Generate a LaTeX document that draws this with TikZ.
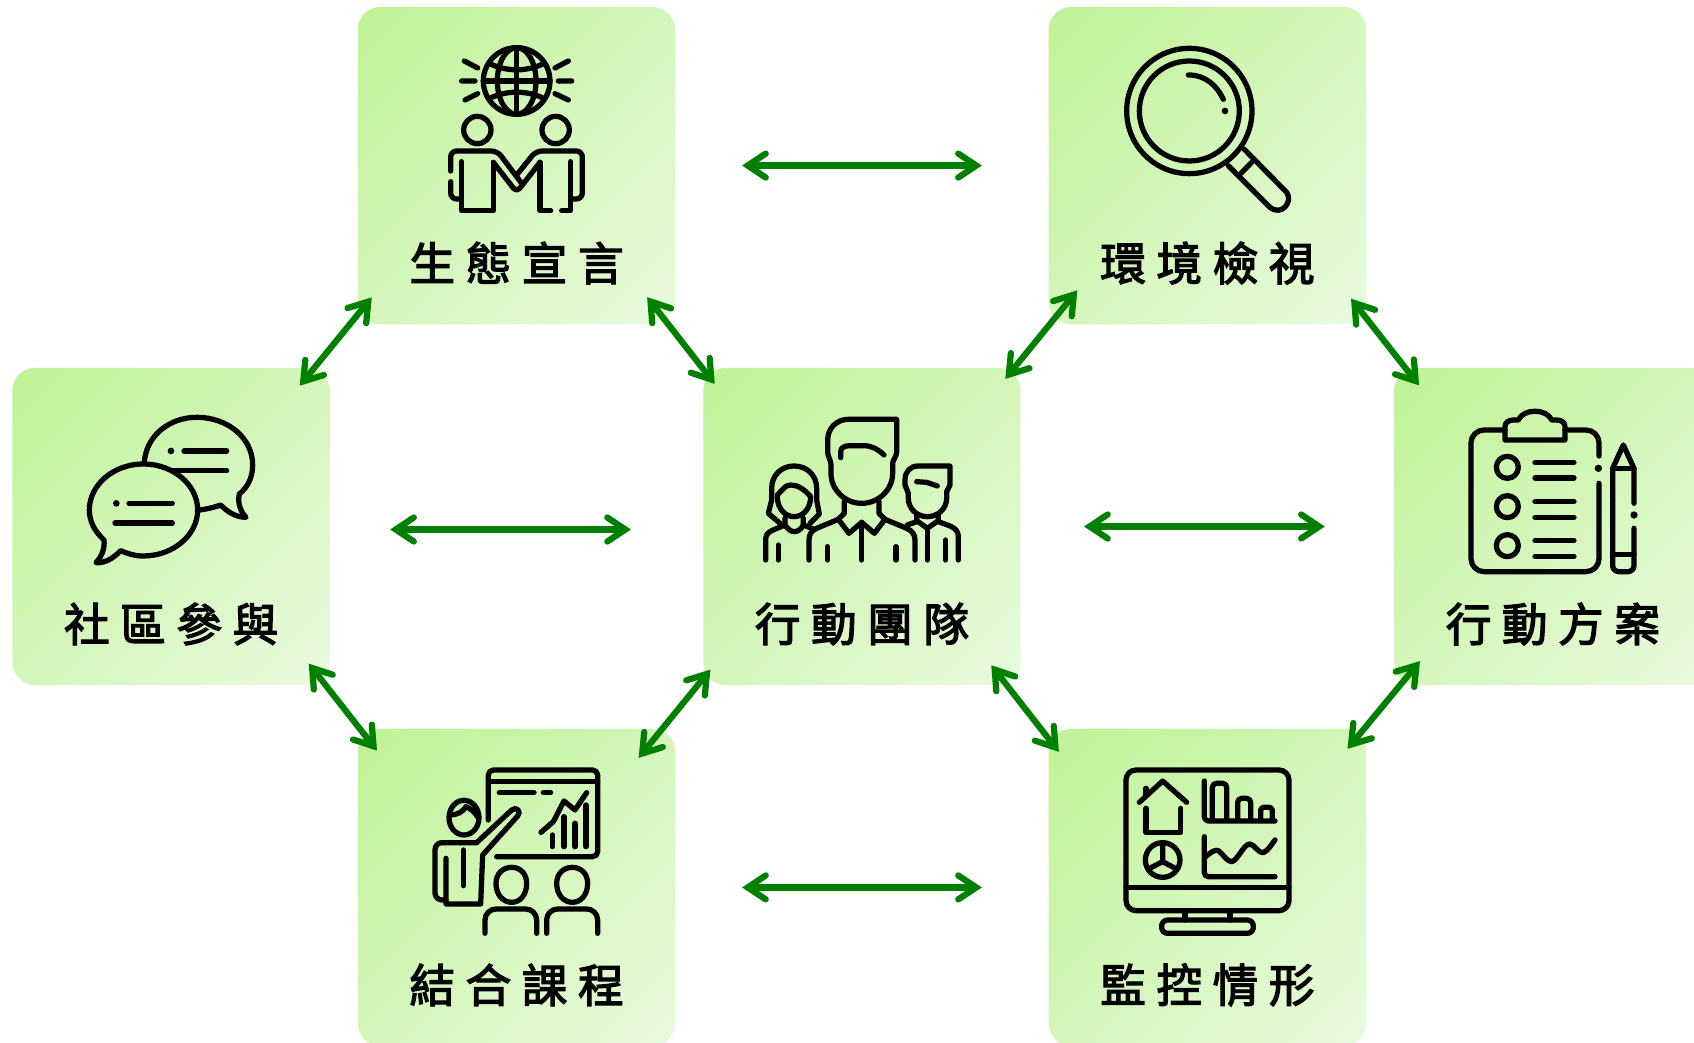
\documentclass[tikz,border=0pt]{standalone}
\usepackage{fontspec}
\usepackage{tikz}
\usetikzlibrary{arrows.meta}
\newfontfamily\cjkfont[LetterSpace=23, FakeBold=2.8]{Noto Sans CJK TC}
\definecolor{cardtop}{HTML}{BFF296}
\definecolor{cardbottom}{HTML}{E9FADF}
\definecolor{arrowgreen}{HTML}{008000}
\pgfdeclareverticalshading{cardshade}{100bp}{color(0bp)=(cardbottom); color(14.6bp)=(cardbottom); color(85.4bp)=(cardtop); color(100bp)=(cardtop)}

\begin{document}
\begin{tikzpicture}[x=0.02cm, y=-0.02cm, node distance=7.22cm]
        \tikzstyle{card} = [rectangle, rounded corners=0.46cm, minimum size=6.35cm, inner sep=0pt, shade, shading=cardshade, shading angle=45]
        \tikzstyle{cardlabel} = [inner sep=0pt, text=black, font=\cjkfont\fontsize{26}{30}\selectfont, node distance=1.95cm]
        \tikzstyle{arrow} = [draw=arrowgreen, line width=0.125cm, {Straight Barb[length=0.36cm, width=0.48cm, line cap=round, line join=miter]}-{Straight Barb[length=0.36cm, width=0.48cm, line cap=round, line join=miter]}]
        \tikzstyle{icon} = [x=0.00667cm, y=-0.00667cm, line width=0.105cm, line cap=round, line join=round, draw=black]

        \useasboundingbox (0,0) rectangle (1694,1043);

        % Cards
        \node (team) [card] at (862,526.5) {};
        \node (eco) [card, above of=team, xshift=-6.91cm] {};
        \node (scan) [card, above of=team, xshift=6.91cm] {};
        \node (course) [card, below of=team, xshift=-6.91cm] {};
        \node (monitor) [card, below of=team, xshift=6.91cm] {};
        \node (community) [card, left of=team, node distance=13.82cm] {};
        \node (plan) [card, right of=team, node distance=13.82cm] {};

        % Labels
        \node (eco_label) [cardlabel, below of=eco] {生態宣言};
        \node (scan_label) [cardlabel, below of=scan] {環境檢視};
        \node (community_label) [cardlabel, below of=community] {社區參與};
        \node (team_label) [cardlabel, below of=team] {行動團隊};
        \node (plan_label) [cardlabel, below of=plan] {行動方案};
        \node (course_label) [cardlabel, below of=course] {結合課程};
        \node (monitor_label) [cardlabel, below of=monitor] {監控情形};

        % Globe and handshake
        \begin{scope}[shift={(340,0)}, icon]
            \draw (530,243) circle [radius=100];
            \draw (530,243) ellipse [x radius=58, y radius=100];
            \draw (530,143) -- (530,343);
            \draw (430,243) -- (630,243);
            \draw (447,190) .. controls (500,216) and (560,216) .. (613,190);
            \draw (447,296) .. controls (500,270) and (560,270) .. (613,296);
            \draw (373,183) -- (413,204) (365,243) -- (405,243) (375,300) -- (413,281);
            \draw (685,183) -- (645,204) (655,243) -- (695,243) (685,300) -- (645,281);
            \draw (412,390) circle [radius=41];
            \draw (647,390) circle [radius=41];
            \draw [rounded corners=0.12cm] (332,513) -- (332,453) -- (472,453) -- (545,550);
            \draw [rounded corners=0.12cm] (530,525) -- (588,453) -- (727,453) -- (727,597) -- (697,597);
            \draw [rounded corners=0.12cm] (332,545) -- (332,597) -- (363,597);
            \draw (365,485) -- (365,632) -- (460,632) -- (460,487);
            \draw [rounded corners=0.1cm] (460,487) -- (530,577) -- (600,487);
            \draw (600,487) -- (600,632) -- (632,632);
            \draw (665,632) -- (692,632) -- (692,485);
        \end{scope}

        % Magnifier
        \begin{scope}[shift={(1040,0)}, icon]
            \draw (448,333) circle [radius=188];
            \draw (448,333) circle [radius=150];
            \draw (445,225) .. controls (495,225) and (530,255) .. (550,298);
            \fill (555,333) circle [radius=10];
            \draw (613,448) -- (740,577) .. controls (760,605) and (725,650) .. (690,622) -- (565,497);
            \draw (635,487) -- (603,520);
        \end{scope}

        % Speech bubbles
        \begin{scope}[shift={(0,360)}, icon]
            \draw (433,305) .. controls (440,225) and (510,172) .. (590,172) .. controls (685,172) and (758,235) .. (758,315) .. controls (758,350) and (745,380) .. (718,402) .. controls (712,430) and (722,455) .. (738,472) .. controls (710,472) and (685,458) .. (662,435) .. controls (640,443) and (620,447) .. (600,450);
            \fill (513,273) circle [radius=10];
            \draw (552,273) -- (680,273);
            \draw (520,332) -- (680,332);
            \draw (430,312) .. controls (520,312) and (593,375) .. (593,450) .. controls (593,525) and (520,588) .. (430,588) .. controls (405,588) and (385,582) .. (362,572) .. controls (340,595) and (315,610) .. (288,608) .. controls (305,590) and (315,565) .. (312,540) .. controls (285,515) and (268,485) .. (268,450) .. controls (268,375) and (340,312) .. (430,312) -- cycle;
            \fill (349,430) circle [radius=10];
            \draw (387,430) -- (517,430);
            \draw (345,489) -- (517,489);
        \end{scope}

        % Three people
        \begin{scope}[shift={(700,360)}, icon]
            \draw (590,178) -- (445,178) .. controls (410,178) and (383,205) .. (383,240) -- (383,275) .. controls (383,290) and (393,300) .. (393,315) -- (393,340) .. controls (393,390) and (435,430) .. (485,430) .. controls (535,430) and (578,390) .. (578,340) -- (578,310) .. controls (578,300) and (590,290) .. (590,275) -- cycle;
            \draw (422,293) -- (422,275) .. controls (422,262) and (435,257) .. (450,257) -- (490,257) .. controls (515,257) and (535,268) .. (552,285);
            \draw (433,425) -- (433,460) -- (415,478) -- (447,520) -- (485,487) -- (523,520) -- (555,478) -- (537,460) -- (537,425);
            \draw (485,487) -- (485,600);
            \draw (415,478) -- (350,505) .. controls (335,512) and (327,522) .. (327,540) -- (327,600);
            \draw (555,478) -- (620,505) .. controls (635,512) and (645,522) .. (645,540) -- (645,600);
            \draw (382,560) -- (382,600);
            \draw (588,560) -- (588,600);
            \draw (240,490) -- (205,460) -- (215,420) -- (215,385) .. controls (215,345) and (245,318) .. (282,318) .. controls (320,318) and (350,345) .. (350,385) -- (350,420) -- (358,462) -- (330,490);
            \draw (232,410) .. controls (232,445) and (255,470) .. (282,470) .. controls (310,470) and (332,445) .. (332,410) .. controls (315,390) and (295,375) .. (272,375) .. controls (255,375) and (248,390) .. (232,405);
            \draw (255,475) -- (255,495) .. controls (265,510) and (275,515) .. (282,515) .. controls (292,515) and (302,510) .. (310,495) -- (310,475);
            \draw (255,495) -- (215,512) .. controls (203,518) and (197,525) .. (197,540) -- (197,600);
            \draw (235,555) -- (235,600);
            \draw (310,495) -- (340,507);
            \draw (750,318) -- (655,318) .. controls (630,318) and (615,335) .. (615,360) -- (615,375) .. controls (615,385) and (625,390) .. (625,400) -- (625,415) .. controls (625,445) and (650,470) .. (682,470) .. controls (715,470) and (740,445) .. (740,415) -- (740,395) -- (750,375) -- cycle;
            \draw (650,365) -- (680,367) -- (712,378);
            \draw (650,465) -- (650,482) -- (682,505) -- (715,482) -- (715,465);
            \draw (682,505) -- (682,600);
            \draw (715,485) -- (750,498) .. controls (767,505) and (775,515) .. (775,530) -- (775,600);
            \draw (737,540) -- (737,600);
            \draw (650,485) -- (622,495);
        \end{scope}

        % Clipboard and pencil
        \begin{scope}[shift={(1390,360)}, icon]
            \draw [rounded corners=0.26cm] (345,210) -- (243,210) -- (243,635) -- (627,635) -- (627,370);
            \draw [rounded corners=0.26cm] (627,288) -- (627,210) -- (525,210);
            \fill (625,325) circle [radius=11];
            \draw (345,240) -- (525,240) -- (525,200) .. controls (525,188) and (515,180) .. (500,180) -- (485,180) .. controls (470,145) and (400,145) .. (385,180) -- (370,180) .. controls (355,180) and (345,188) .. (345,200) -- cycle;
            \draw (352,322) circle [radius=33];
            \draw (352,440) circle [radius=33];
            \draw (352,557) circle [radius=33];
            \foreach \y in {307,354,425,472,542,589}
                \draw (435,\y) -- (552,\y);
            \draw [rounded corners=0.12cm] (732,505) -- (732,635) -- (668,635) -- (668,420);
            \draw (668,420) -- (668,325) -- (700,255) -- (732,325) -- (732,430);
            \draw (668,325) -- (732,325);
            \draw (668,583) -- (732,583);
            \fill (732,465) circle [radius=11];
        \end{scope}

        % Presenter
        \begin{scope}[shift={(340,720)}, icon]
            \draw [rounded corners=0.1cm] (445,300) -- (445,150) -- (773,150) -- (773,410) -- (470,410);
            \draw (445,185) -- (773,185);
            \draw (478,218) -- (582,218);
            \draw (610,218) -- (632,218);
            \draw (603,337) -- (640,305) -- (672,243) -- (705,270) -- (740,218);
            \draw (637,345) -- (637,380);
            \draw (672,290) -- (672,380);
            \draw (705,310) -- (705,380);
            \draw (738,255) -- (738,380);
            \draw (372,293) ellipse [x radius=45, y radius=52];
            \draw (332,285) .. controls (350,285) and (370,275) .. (378,260) .. controls (390,265) and (405,275) .. (412,290);
            \draw (410,368) -- (515,270) .. controls (530,258) and (545,275) .. (533,288) -- (428,405) -- (422,552) -- (318,552) -- (318,415);
            \draw [rounded corners=0.14cm] (318,540) -- (285,540) -- (285,368) -- (410,368);
            \draw (370,390) -- (370,497);
            \draw (468,490) .. controls (468,460) and (490,442) .. (515,442) .. controls (540,442) and (560,460) .. (560,490) .. controls (560,525) and (540,547) .. (515,547) .. controls (490,547) and (468,525) .. (468,490) -- cycle;
            \draw (650,490) .. controls (650,460) and (672,442) .. (697,442) .. controls (722,442) and (743,460) .. (743,490) .. controls (743,525) and (722,547) .. (697,547) .. controls (672,547) and (650,525) .. (650,490) -- cycle;
            \draw [rounded corners=0.22cm] (435,640) -- (435,567) -- (590,567) -- (590,640);
            \draw [rounded corners=0.22cm] (620,640) -- (620,567) -- (773,567) -- (773,640);
        \end{scope}

        % Monitor
        \begin{scope}[shift={(1040,720)}, icon]
            \draw [rounded corners=0.2cm] (258,150) rectangle (747,572);
            \draw (258,502) -- (747,502);
            \draw (435,572) -- (435,600);
            \draw (570,572) -- (570,600);
            \draw [rounded corners=0.12cm] (365,640) -- (365,600) -- (640,600) -- (640,640) -- cycle;
            \draw (298,247) -- (368,183) -- (440,247);
            \draw (318,205) -- (318,225);
            \draw (318,265) -- (318,338) -- (422,338) -- (422,265);
            \draw (368,420) circle [radius=52];
            \draw (368,368) -- (368,425) -- (410,447);
            \draw (368,425) -- (325,447);
            \draw [rounded corners=0.08cm] (493,183) -- (493,303) -- (705,303);
            \draw [rounded corners=0.08cm] (517,300) -- (517,190) -- (560,190) -- (560,300);
            \draw [rounded corners=0.08cm] (593,300) -- (593,235) -- (632,235) -- (632,300);
            \draw [rounded corners=0.06cm] (662,300) -- (662,262) -- (697,262) -- (697,300);
            \draw [rounded corners=0.08cm] (493,350) -- (493,470) -- (705,470);
            \draw (497,410) .. controls (515,395) and (525,388) .. (535,392) .. controls (548,400) and (560,425) .. (575,425) .. controls (595,420) and (610,372) .. (630,372) .. controls (645,375) and (655,400) .. (670,398) .. controls (685,392) and (695,372) .. (705,360);
        \end{scope}

        % Arrow ends
        \coordinate (eco_sw) at ([shift={(14.3,-27.3)}]eco.south west);
        \coordinate (community_ne) at ([shift={(-30.5,18.3)}]community.north east);
        \coordinate (eco_se) at ([shift={(-28.5,-27.5)}]eco.south east);
        \coordinate (team_nw) at ([shift={(11.8,16.5)}]team.north west);
        \coordinate (scan_sw) at ([shift={(29,-34.3)}]scan.south west);
        \coordinate (team_ne) at ([shift={(-15.8,11.5)}]team.north east);
        \coordinate (scan_se) at ([shift={(-15.5,-26)}]scan.south east);
        \coordinate (plan_nw) at ([shift={(25.3,18)}]plan.north west);
        \coordinate (community_se) at ([shift={(-21.5,-22)}]community.south east);
        \coordinate (course_nw) at ([shift={(19.5,22.3)}]course.north west);
        \coordinate (team_sw) at ([shift={(7.5,-16)}]team.south west);
        \coordinate (course_ne) at ([shift={(-37,29.5)}]course.north east);
        \coordinate (team_se) at ([shift={(-29.8,-20.3)}]team.south east);
        \coordinate (monitor_nw) at ([shift={(10.5,23.5)}]monitor.north west);
        \coordinate (plan_sw) at ([shift={(26.2,-24.5)}]plan.south west);
        \coordinate (monitor_ne) at ([shift={(-19,20.5)}]monitor.north east);
        \coordinate (community_e) at ([shift={(60,3)}]community.east);
        \coordinate (team_w) at ([shift={(-72,3)}]team.west);
        \coordinate (team_e) at ([shift={(63,0)}]team.east);
        \coordinate (plan_w) at ([shift={(-69,0)}]plan.west);

        % Arrows
        \draw [arrow] (community_ne) -- (eco_sw);
        \draw [arrow] (eco_se) -- (team_nw);
        \draw [arrow] (team_ne) -- (scan_sw);
        \draw [arrow] (scan_se) -- (plan_nw);
        \draw [arrow] (community_se) -- (course_nw);
        \draw [arrow] (course_ne) -- (team_sw);
        \draw [arrow] (team_se) -- (monitor_nw);
        \draw [arrow] (monitor_ne) -- (plan_sw);
        \draw [arrow] (community_e) -- (team_w);
        \draw [arrow] (team_e) -- (plan_w);
        \draw [arrow, shorten <=1.33cm, shorten >=1.33cm] (eco) -- (scan);
        \draw [arrow, shorten <=1.33cm, shorten >=1.33cm] (course) -- (monitor);
    \end{tikzpicture}
\end{document}
